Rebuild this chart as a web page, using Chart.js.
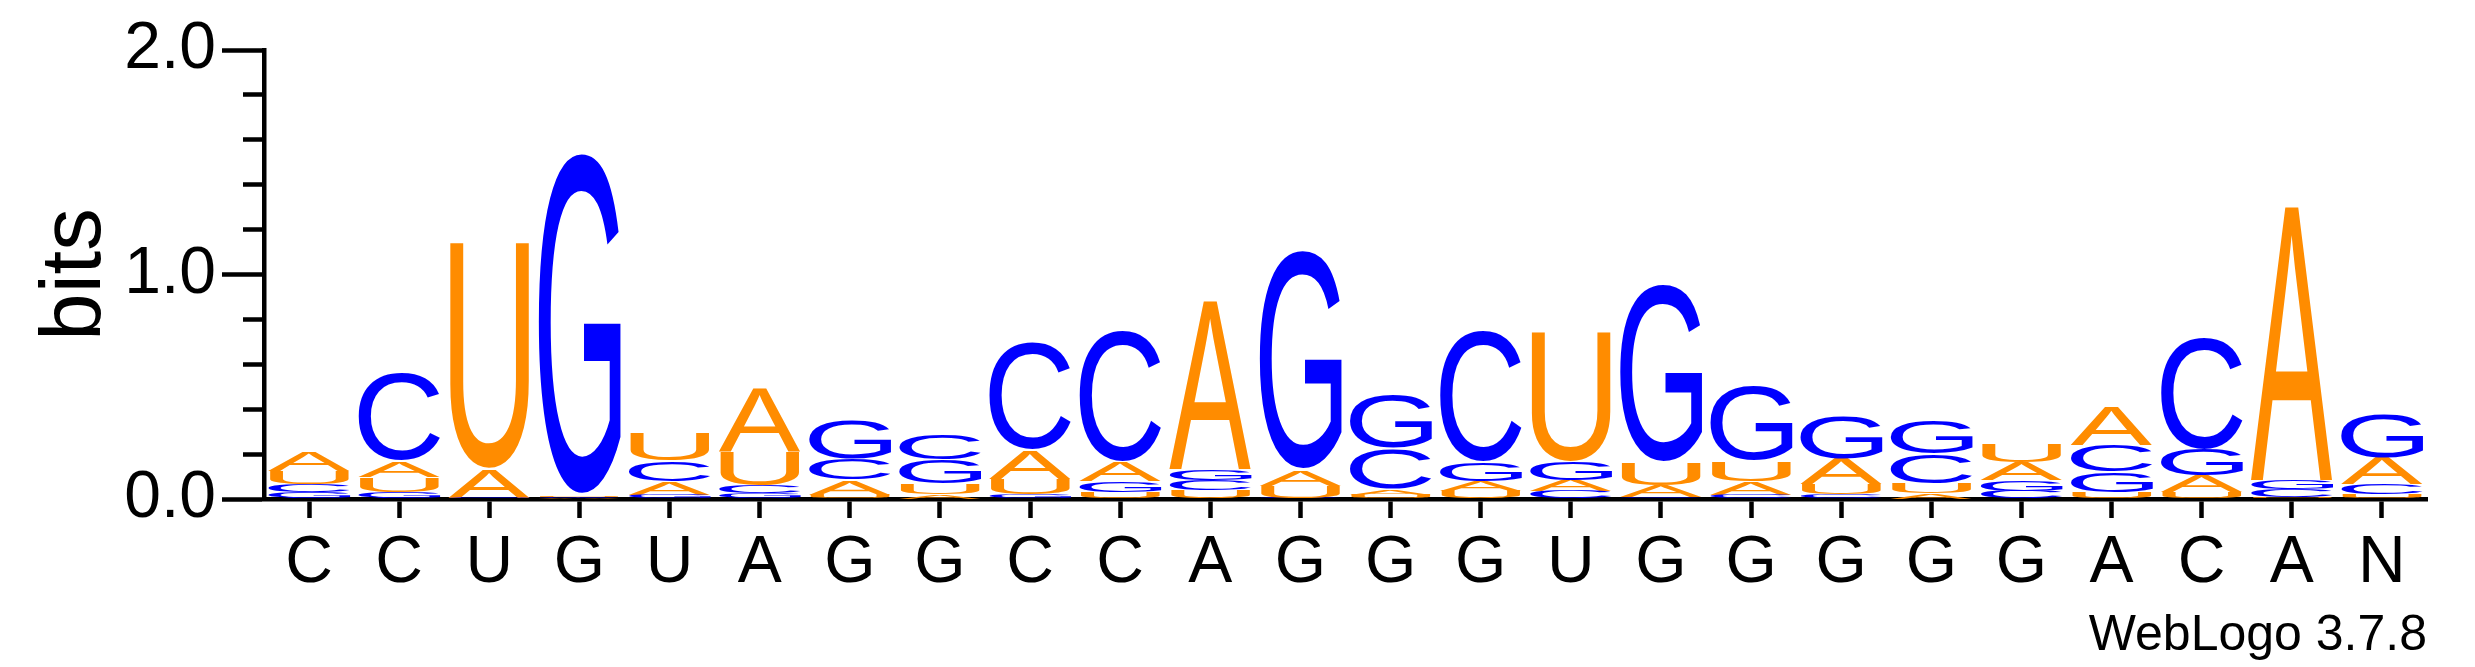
<!DOCTYPE html>
<html>
<head>
<meta charset="utf-8">
<title>WebLogo</title>
<script src="https://cdn.jsdelivr.net/npm/chart.js@4.4.1/dist/chart.umd.min.js"></script>
<style>
    html, body { margin: 0; padding: 0; background: #fff; }
    #logo { display: block; }
</style>
</head>
<body>
<canvas id="logo" width="2475" height="667"></canvas>
<script>
'use strict'

// DATA (bits per letter, per position)
var positions = ["C", "C", "U", "G", "U", "A", "G", "G", "C", "C", "A", "G",
    "G", "G", "U", "G", "G", "G", "G", "G", "A", "C", "A", "N"];

var bitsA = [0.085, 0.072, 0.125, 0.005, 0.06, 0.285, 0.065, 0.02, 0.125, 0.085, 0.76, 0.07,
    0.025, 0.045, 0.05, 0.05, 0.06, 0.115, 0.025, 0.08, 0.175, 0.075, 1.24, 0.12];
var bitsC = [0.035, 0.39, 0.003, 0.005, 0.09, 0.035, 0.095, 0.11, 0.48, 0.59, 0.045, 0.005,
    0.18, 0.59, 0.035, 0.01, 0.02, 0.02, 0.13, 0.035, 0.12, 0.50, 0.035, 0.045];
var bitsG = [0.03, 0.03, 0.003, 1.53, 0.02, 0.025, 0.17, 0.105, 0.02, 0.05, 0.05, 0.98,
    0.235, 0.085, 0.08, 0.795, 0.33, 0.19, 0.15, 0.05, 0.09, 0.115, 0.04, 0.195];
var bitsU = [0.06, 0.068, 1.03, 0.005, 0.125, 0.155, 0.02, 0.05, 0.07, 0.03, 0.04, 0.055,
    0.02, 0.035, 0.59, 0.10, 0.09, 0.045, 0.045, 0.085, 0.03, 0.03, 0.01, 0.02];

var yMax = 2.0;
var yStep = 0.2;
var footer = "WebLogo 3.7.8";

var letters = ["A", "C", "G", "U"];
var heights = { A: bitsA, C: bitsC, G: bitsG, U: bitsU };
var colors = { A: "#ff8c00", C: "#0000ff", G: "#0000ff", U: "#ff8c00" };


// stack each column: smallest letter at the bottom, biggest on top
var ranges = { A: [], C: [], G: [], U: [] };
positions.forEach(function (p, i) {
    var order = letters.slice().sort(function (a, b) {
        return heights[a][i] - heights[b][i];
    });
    var base = 0;
    order.forEach(function (l) {
        ranges[l][i] = [base, base + heights[l][i]];
        base += heights[l][i];
    });
});

var datasets = letters.map(function (l) {
    return {
        label: l,
        data: ranges[l],
        letterColor: colors[l],
        backgroundColor: "rgba(0,0,0,0)",
        borderWidth: 0,
        grouped: false,
        barPercentage: 0.91,
        categoryPercentage: 1.0
    };
});


// draws each bar as a letter stretched into the bar box
var glyphCache = {};

function glyphBox(ctx, letter) {
    if (!glyphCache[letter]) {
        var m = ctx.measureText(letter);
        glyphCache[letter] = {
            left: m.actualBoundingBoxLeft,
            asc: m.actualBoundingBoxAscent,
            w: m.actualBoundingBoxLeft + m.actualBoundingBoxRight,
            h: m.actualBoundingBoxAscent + m.actualBoundingBoxDescent
        };
    }
    return glyphCache[letter];
}

var letterPlugin = {
    id: "logoLetters",
    afterDatasetsDraw: function (chart) {
        var ctx = chart.ctx;
        chart.data.datasets.forEach(function (ds, di) {
            var meta = chart.getDatasetMeta(di);
            meta.data.forEach(function (bar) {
                var p = bar.getProps(["x", "y", "base", "width"], true);
                var top = Math.min(p.y, p.base);
                var h = Math.abs(p.base - p.y);
                if (h < 0.3) return;
                ctx.save();
                ctx.font = '300px "Liberation Sans", Arial, sans-serif';
                ctx.textAlign = "left";
                ctx.textBaseline = "alphabetic";
                var g = glyphBox(ctx, ds.label);
                ctx.translate(p.x - p.width / 2, top);
                ctx.scale(p.width / g.w, h / g.h);
                ctx.fillStyle = ds.letterColor;
                ctx.fillText(ds.label, g.left, g.asc);
                ctx.restore();
            });
        });
    }
};


// CHART
var isMajor = function (v) {
    return Math.abs(v - Math.round(v)) < 1e-6;
};

var ctx = document.getElementById("logo").getContext("2d");

var chart = new Chart(ctx, {
    type: "bar",
    data: {
        labels: positions,
        datasets: datasets
    },
    plugins: [letterPlugin],
    options: {
        responsive: false,
        devicePixelRatio: 1,
        animation: false,
        layout: {
            padding: { top: 50, right: 48, bottom: 0, left: 0 }
        },
        plugins: {
            legend: { display: false },
            tooltip: { enabled: false },
            title: {
                display: true,
                text: footer,
                position: "bottom",
                align: "end",
                color: "#000",
                font: { family: '"Liberation Sans", Arial, sans-serif', size: 50, weight: "normal", lineHeight: 1 },
                padding: { top: 0, bottom: 6 }
            }
        },
        scales: {
            x: {
                offset: true,
                afterFit: function (scale) { scale.height = 112; },
                border: { display: true, color: "#000", width: 4.5 },
                grid: {
                    offset: false,
                    drawOnChartArea: false,
                    drawTicks: true,
                    tickLength: 19,
                    tickWidth: 4.5,
                    tickColor: "#000"
                },
                ticks: {
                    color: "#000",
                    padding: 6,
                    autoSkip: false,
                    maxRotation: 0,
                    font: { family: '"Liberation Sans", Arial, sans-serif', size: 66, lineHeight: 1.2 }
                }
            },
            y: {
                min: 0,
                max: yMax,
                afterFit: function (scale) { scale.width = 264; },
                border: { display: true, color: "#000", width: 4.5 },
                grid: {
                    drawOnChartArea: false,
                    drawTicks: true,
                    tickLength: 42,
                    tickWidth: 4.5,
                    tickColor: "#000",
                    // short minor ticks: only the inner half of the tick is drawn
                    tickBorderDash: function (c) {
                        return c.tick && isMajor(c.tick.value) ? [] : [0, 21, 21, 100];
                    }
                },
                ticks: {
                    stepSize: yStep,
                    autoSkip: false,
                    color: "#000",
                    padding: 6,
                    font: { family: '"Liberation Sans", Arial, sans-serif', size: 66 },
                    callback: function (v) {
                        return isMajor(v) ? Number(v).toFixed(1) : "";
                    }
                },
                title: {
                    display: true,
                    text: "bits",
                    color: "#000",
                    font: { family: '"Liberation Sans", Arial, sans-serif', size: 85, lineHeight: 1 },
                    padding: { top: 34, bottom: 0 }
                }
            }
        }
    }
});
// END CHART
</script>
</body>
</html>
